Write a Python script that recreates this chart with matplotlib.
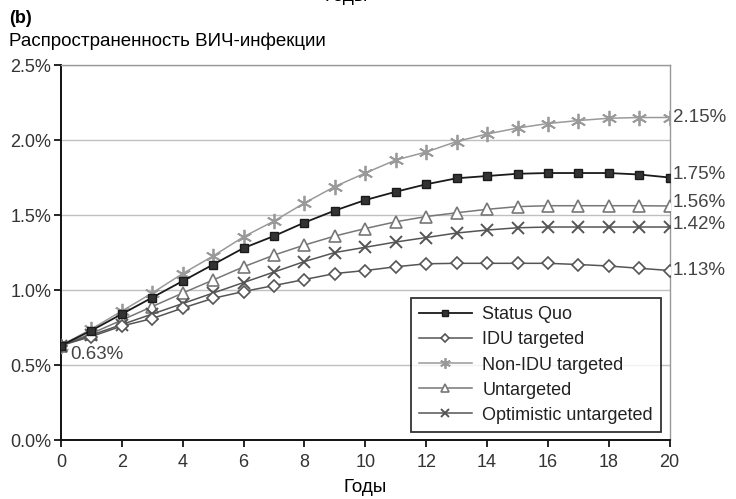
import matplotlib.pyplot as plt
from matplotlib.ticker import FuncFormatter

plt.rcParams['font.family'] = ['Liberation Sans', 'DejaVu Sans']

# years and prevalence (%)
years = list(range(0, 21))
status_quo = [0.63, 0.73, 0.84, 0.95, 1.06, 1.17, 1.28, 1.36, 1.45, 1.53, 1.60,
              1.655, 1.705, 1.745, 1.76, 1.775, 1.78, 1.78, 1.78, 1.77, 1.75]
idu = [0.63, 0.69, 0.76, 0.81, 0.88, 0.945, 0.99, 1.03, 1.07, 1.11, 1.13,
       1.155, 1.175, 1.178, 1.178, 1.178, 1.178, 1.17, 1.16, 1.145, 1.13]
non_idu = [0.63, 0.74, 0.86, 0.98, 1.11, 1.227, 1.355, 1.46, 1.58, 1.69, 1.78,
           1.867, 1.92, 1.99, 2.04, 2.08, 2.11, 2.13, 2.145, 2.15, 2.15]
untargeted = [0.63, 0.71, 0.80, 0.89, 0.98, 1.067, 1.155, 1.233, 1.30, 1.36, 1.41,
              1.455, 1.49, 1.515, 1.538, 1.556, 1.562, 1.562, 1.562, 1.562, 1.56]
optimistic = [0.63, 0.70, 0.77, 0.84, 0.91, 0.98, 1.05, 1.12, 1.19, 1.25, 1.285,
              1.32, 1.35, 1.38, 1.40, 1.415, 1.42, 1.42, 1.42, 1.42, 1.42]

end_labels = ["2.15%", "1.75%", "1.56%", "1.42%", "1.13%"]
end_values = [2.15, 1.77, 1.585, 1.435, 1.13]

fig = plt.figure(figsize=(7.36, 4.99), dpi=100)
ax = fig.add_axes([0.0829, 0.1182, 0.827, 0.7515])

ax.plot(years, status_quo, color='#1a1a1a', lw=1.3, marker='s', ms=5.5,
        mfc='#333333', mec='#1a1a1a', label='Status Quo', zorder=5)
ax.plot(years, idu, color='#555555', lw=1.1, marker='D', ms=6,
        mfc='white', mec='#555555', mew=1.2, label='IDU targeted', zorder=4)
ax.plot(years, non_idu, color='#9a9a9a', lw=1.1, marker=(6, 2, 0), ms=11,
        mec='#9a9a9a', mew=1.3, label='Non-IDU targeted', zorder=3)
ax.plot(years, untargeted, color='#777777', lw=1.1, marker='^', ms=8,
        mfc='white', mec='#777777', mew=1.2, label='Untargeted', zorder=3)
ax.plot(years, optimistic, color='#555555', lw=1.1, marker='x', ms=9,
        mec='#555555', mew=1.4, label='Optimistic untargeted', zorder=3)

ax.set_xlim(0, 20)
ax.set_ylim(0, 2.5)
ax.set_xticks(range(0, 21, 2))
ax.set_yticks([0, 0.5, 1.0, 1.5, 2.0, 2.5])
ax.yaxis.set_major_formatter(FuncFormatter(lambda v, p: f"{v:.1f}%"))
ax.grid(axis='y', color='#c0c0c0', lw=1)
ax.set_axisbelow(True)
ax.tick_params(direction='out', length=5, width=1.2, labelsize=13,
               labelcolor='#333333')
ax.tick_params(axis='x', pad=5)
ax.tick_params(axis='y', pad=2)

for s in ['left', 'bottom']:
    ax.spines[s].set_color('#111111')
    ax.spines[s].set_linewidth(1.4)
for s in ['top', 'right']:
    ax.spines[s].set_color('#999999')
    ax.spines[s].set_linewidth(1.0)

for lab, v in zip(end_labels, end_values):
    ax.text(20.1, v, lab, fontsize=13.5, color='#444444', va='center',
            ha='left', clip_on=False)
ax.text(0.3, 0.57, "0.63%", fontsize=13.5, color='#444444', va='center', ha='left')

leg = ax.legend(loc='lower right', bbox_to_anchor=(0.992, 0.012), fontsize=13,
                frameon=True, fancybox=False, edgecolor='black',
                handlelength=2.9, labelspacing=0.45, borderpad=0.45,
                handletextpad=0.6, markerscale=0.7, borderaxespad=0.2)
leg.get_frame().set_linewidth(1.3)
for t in leg.get_texts():
    t.set_color('#222222')

ax.set_xlabel("Годы", fontsize=13.5, labelpad=6)
fig.text(0.012, 0.962, "(b)", fontsize=13, fontweight='bold', va='center')
fig.text(0.012, 0.918, "Распространенность ВИЧ-инфекции", fontsize=13.5,
         va='center')
fig.text(0.47, 1.008, "Годы", fontsize=13.5, va='center', ha='center')

fig.savefig("out.png", dpi=100)
